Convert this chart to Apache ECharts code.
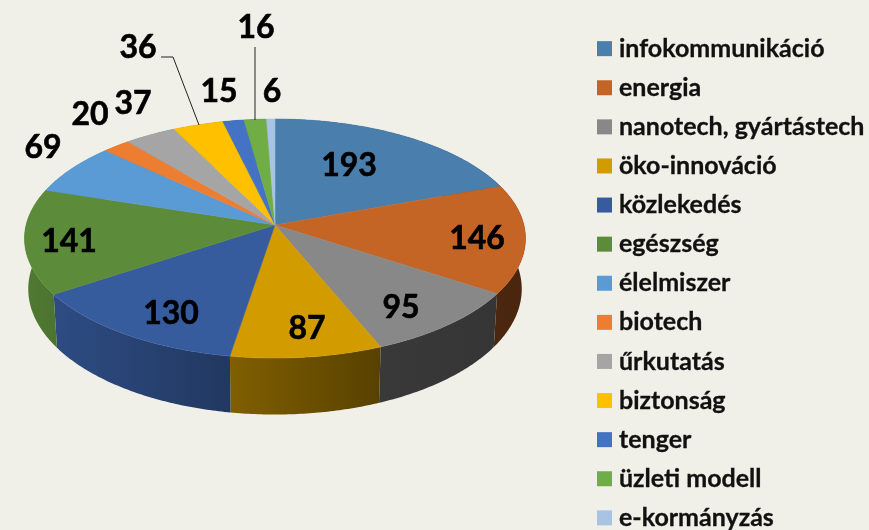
<!DOCTYPE html>
<html lang="hu">
<head>
<meta charset="UTF-8" />
<title>Pie</title>
<style>
html, body { margin: 0; padding: 0; background: #f0f0e8; overflow: hidden; }
#main { width: 869px; height: 530px; }
</style>
<script src="https://cdn.jsdelivr.net/npm/echarts@6/dist/echarts.min.js"></script>
</head>
<body>
<div id="main"></div>
<script>
const categories = ['infokommunikáció', 'energia', 'nanotech, gyártástech', 'öko-innováció', 'közlekedés', 'egészség', 'élelmiszer', 'biotech', 'űrkutatás', 'biztonság', 'tenger', 'üzleti modell', 'e-kormányzás'];
const values = [193, 146, 95, 87, 130, 141, 69, 20, 37, 36, 15, 16, 6];
const colors = ['#4a7ead', '#c46526', '#888888', '#d29c00', '#375c9e', '#5c8c3a', '#5b9bd5', '#ed7d31', '#a5a5a5', '#ffc000', '#4472c4', '#70ad47', '#a9c3e2'];

// where the value labels sit, same order as values
const labelPos = [[349, 166], [477, 239], [401, 308], [307, 329], [171, 314], [69, 242], [43, 148], [90, 115], [133, 104], [138, 48], [219, 92], [256, 28], [272, 92]];
const leaderLines = [
    [[161, 57], [173, 57], [199, 125]],
    [[255, 47], [255, 120]]
];

// perspective of the tilted disc
const apexX = 275, apexY = 225, scaleX = 248.9, scaleY = 118, tilt = -0.113;
const total = values.reduce((a, b) => a + b, 0);

function angleAt(i) {
    let sum = 0;
    for (let k = 0; k < i; k++) sum += values[k];
    return sum / total * Math.PI * 2;
}

function rimTop(t) {
    const u = Math.sin(t), v = -Math.cos(t), w = 1 + tilt * v;
    return [apexX + scaleX * u / w, apexY + scaleY * v / w];
}

function rimBottom(t) {
    const p = rimTop(t);
    return [apexX + (p[0] - apexX) * 0.985, p[1] * 1.05 + 38.6];
}

function arc(i, rim) {
    const a0 = angleAt(i), a1 = angleAt(i + 1), n = Math.max(2, Math.ceil((a1 - a0) * 90));
    const pts = [];
    for (let k = 0; k <= n; k++) pts.push(rim(a0 + (a1 - a0) * k / n));
    return pts;
}

// wall gets darker from left to right
function shadeAt(x) {
    return x <= 380 ? 0.86 - (x - 30) * 0.44 / 350 : 0.42 - (x - 380) * 0.04 / 146;
}

function shade(hex, f) {
    const n = parseInt(hex.slice(1), 16);
    const c = [n >> 16, (n >> 8) & 255, n & 255].map(v => Math.round(v * f));
    return 'rgb(' + c.join(',') + ')';
}

function renderWall(params) {
    const i = params.dataIndex;
    const top = arc(i, rimTop), bottom = arc(i, rimBottom);
    const xs = top.concat(bottom).map(p => p[0]);
    const x0 = Math.min.apply(null, xs), x1 = Math.max.apply(null, xs);
    const fill = new echarts.graphic.LinearGradient(0, 0, 1, 0, [
        { offset: 0, color: shade(colors[i], shadeAt(x0)) },
        { offset: 1, color: shade(colors[i], shadeAt(x1)) }
    ]);
    return { type: 'polygon', shape: { points: top.concat(bottom.reverse()) }, style: { fill: fill } };
}

function renderTop(i) {
    return function () {
        return {
            type: 'polygon',
            shape: { points: [[apexX, apexY]].concat(arc(i, rimTop)) },
            style: { fill: colors[i], stroke: colors[i], lineWidth: 0.5 }
        };
    };
}

function renderLabel(params) {
    const i = params.dataIndex;
    return {
        type: 'text',
        style: {
            text: String(values[i]), x: labelPos[i][0], y: labelPos[i][1],
            align: 'center', verticalAlign: 'middle',
            fill: '#000', stroke: '#000', lineWidth: 0.6, font: 'bold 32px Lato'
        }
    };
}

function renderLeader(params) {
    return {
        type: 'polyline',
        shape: { points: leaderLines[params.dataIndex] },
        style: { fill: 'none', stroke: '#222', lineWidth: 1 }
    };
}

const series = [
    { type: 'custom', name: 'wall', coordinateSystem: 'none', z: 1, silent: true, renderItem: renderWall, data: values }
];
categories.forEach(function (name, i) {
    series.push({
        type: 'custom', name: name, coordinateSystem: 'none', z: 2, silent: true,
        itemStyle: { color: colors[i] }, renderItem: renderTop(i), data: [values[i]]
    });
});
series.push({ type: 'custom', name: 'labels', coordinateSystem: 'none', z: 3, silent: true, renderItem: renderLabel, data: values });
series.push({ type: 'custom', name: 'leaders', coordinateSystem: 'none', z: 3, silent: true, renderItem: renderLeader, data: leaderLines.map((l, i) => i) });

const myChart = echarts.init(document.getElementById('main'));
myChart.setOption({
    animation: false,
    backgroundColor: '#f0f0e8',
    legend: {
        data: categories,
        orient: 'vertical',
        left: 597,
        top: 36,
        height: 600,
        padding: 0,
        icon: 'rect',
        itemWidth: 15,
        itemHeight: 15,
        itemGap: 13.8,
        selectedMode: false,
        textStyle: { color: '#111', fontFamily: 'Lato', fontWeight: 'bold', fontSize: 25, lineHeight: 20, padding: [0, 0, 0, 2], textBorderColor: '#111', textBorderWidth: 0.3 }
    },
    series: series
});
</script>
</body>
</html>
